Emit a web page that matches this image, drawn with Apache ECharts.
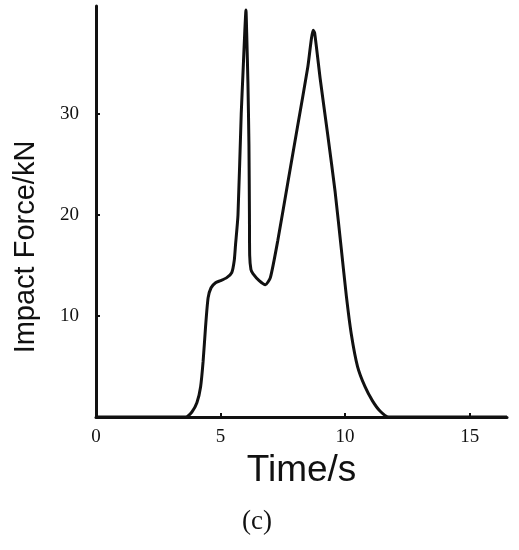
<!DOCTYPE html>
<html>
<head>
<meta charset="utf-8">
<script src="https://cdn.jsdelivr.net/npm/echarts@6/dist/echarts.min.js"></script>
<style>html,body{margin:0;padding:0;background:#fff;}#c{width:519px;height:550px;}</style>
</head>
<body>
<div id="c"></div>
<script>
const timeS = [0, 3.6, 3.85, 4.05, 4.2, 4.3, 4.4, 4.5, 4.62, 4.8, 5.0, 5.25, 5.45, 5.55, 5.6, 5.7, 5.83, 5.9, 5.97, 6.02, 6.05, 6.1, 6.14, 6.16, 6.17, 6.22, 6.3, 6.55, 6.8, 7.0, 7.3, 7.7, 8.1, 8.5, 8.72, 8.78, 9.0, 9.3, 9.6, 9.85, 10.05, 10.25, 10.5, 10.8, 11.1, 11.4, 11.75, 16.5];
const forceKN = [0, 0, 0.5, 1.4, 3.0, 5.5, 9, 11.8, 12.8, 13.3, 13.5, 13.8, 14.3, 15.5, 17, 20, 30, 34, 38, 40.3, 38, 33, 27, 20, 16, 14.6, 14.2, 13.5, 13.1, 13.8, 17.5, 23.2, 28.9, 34.6, 38.3, 38, 33.5, 28, 22.3, 16.6, 12, 8.2, 5, 3, 1.6, 0.6, 0, 0];
const xTickLabels = [0, 5, 10, 15];
const yTickLabels = [10, 20, 30];
const xTitle = 'Time/s';
const yTitle = 'Impact Force/kN';
const panelLabel = '(c)';

const chart = echarts.init(document.getElementById('c'), null, {renderer: 'canvas'});
const pts = timeS.map((t, i) => [t, forceKN[i]]);
chart.setOption({
  backgroundColor: '#fff',
  animation: false,
  grid: {left: 96, right: 12, top: 6, bottom: 133, containLabel: false},
  xAxis: {
    type: 'value', min: 0, max: 16.5, interval: 5,
    name: xTitle, nameLocation: 'middle', nameGap: 35,
    nameTextStyle: {fontFamily: 'Liberation Sans', fontSize: 37, color: '#111'},
    axisLine: {show: true, onZero: false, lineStyle: {color: '#111', width: 3}},
    axisTick: {show: true, inside: true, length: 4, lineStyle: {color: '#111', width: 2}, customValues: [5, 10, 15]},
    axisLabel: {show: true, fontFamily: 'Liberation Serif', fontSize: 19, color: '#111', margin: 11, customValues: xTickLabels},
    splitLine: {show: false}
  },
  yAxis: {
    type: 'value', min: 0, max: 40.7, interval: 10,
    axisLine: {show: true, onZero: false, lineStyle: {color: '#111', width: 3}},
    axisTick: {show: true, inside: true, length: 4, lineStyle: {color: '#111', width: 2}, customValues: yTickLabels},
    axisLabel: {show: true, fontFamily: 'Liberation Serif', fontSize: 19, color: '#111', margin: 17, customValues: yTickLabels},
    splitLine: {show: false}
  },
  graphic: [
    {type: 'text', x: 26, y: 247, rotation: Math.PI / 2,
     style: {text: yTitle, font: '29px "Liberation Sans"', fill: '#111', textAlign: 'center', textVerticalAlign: 'middle'}},
    {type: 'text', x: 257, y: 522,
     style: {text: panelLabel, font: '27px "Liberation Serif"', fill: '#111', textAlign: 'center', textVerticalAlign: 'middle'}}
  ],
  series: [{
    type: 'line', data: pts, showSymbol: false, smooth: 0.2,
    lineStyle: {color: '#111', width: 3}
  }]
});
</script>
</body>
</html>
